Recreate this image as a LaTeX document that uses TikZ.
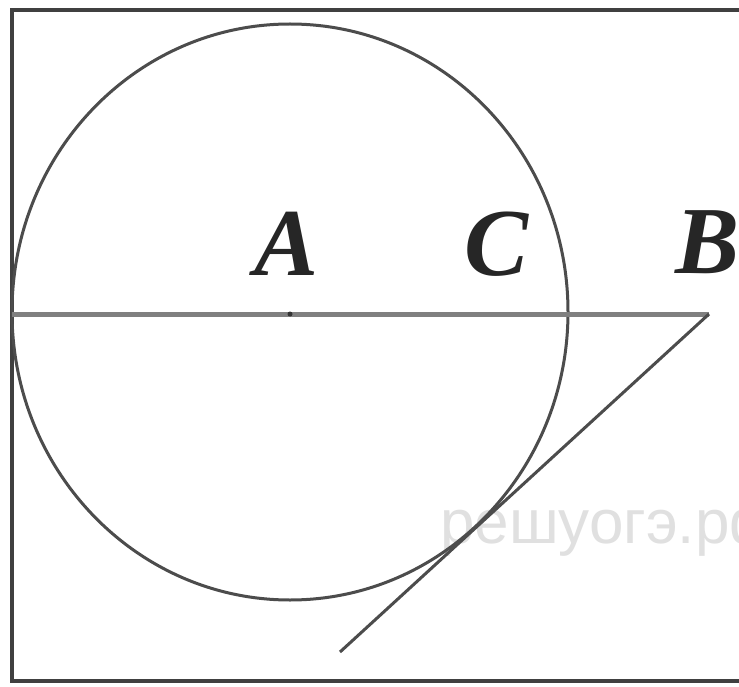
\documentclass[tikz,border=0pt]{standalone}
\usepackage{fontspec}
\setmainfont{Liberation Serif}
\newfontfamily\wmfont{Liberation Sans}
\begin{document}
\begin{tikzpicture}[x=1pt,y=-1pt,
  frameline/.style={draw=black!75,line width=4pt},
  figline/.style={draw=black!70,line width=3pt},
  axisline/.style={draw=black!50,line width=5pt},
  ptlabel/.style={font=\fontsize{96}{96}\selectfont\bfseries\itshape,text=black!85,inner sep=0pt},
  watermark/.style={font=\wmfont\fontsize{62}{62}\selectfont,text=black!12,inner sep=0pt,anchor=base west}]
\useasboundingbox (0,0) rectangle (739,687);
\fill[white] (0,0) rectangle (739,687);
% frame
\draw[frameline] (12,10) rectangle (745,681);
% watermark
\node[watermark] (wm) at (440,543) {решуогэ.рф};
% points
\coordinate (A) at (290,314);
\coordinate (L) at (12,314);
\coordinate (B) at (709,314);
\coordinate (T) at (340,652);
% circle
\draw[figline] ([yshift=2pt]A) ellipse [x radius=278, y radius=288];
% lines
\draw[axisline] (L) -- (B);
\draw[figline] (B) -- (T);
\fill[black!80] (A) circle (2.5pt);
% labels
\node[ptlabel] (lA) at (287,244) {A};
\node[ptlabel] (lC) at (497,244) {C};
\node[ptlabel] (lB) at (708,242) {B};
\end{tikzpicture}
\end{document}
